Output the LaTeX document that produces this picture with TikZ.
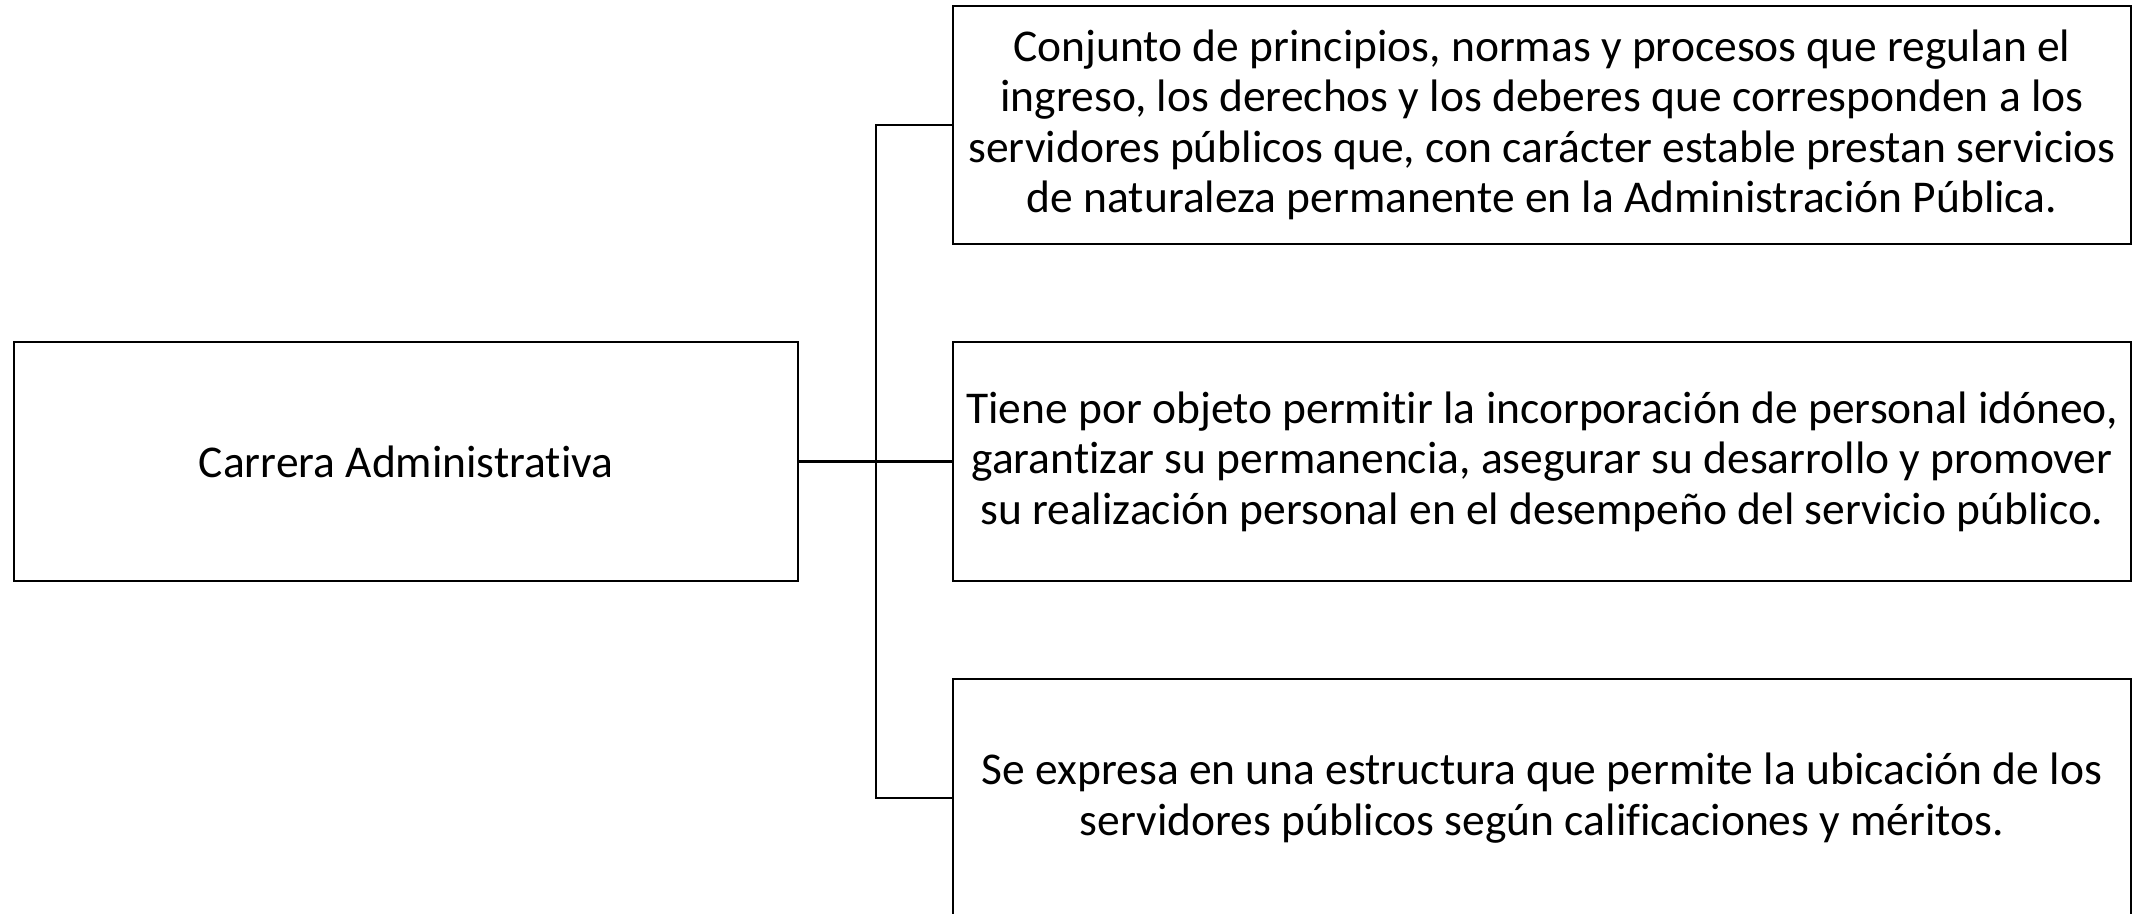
\documentclass[tikz,border=0pt]{standalone}
\usepackage{fontspec}
\setmainfont[Ligatures=NoCommon]{Carlito}
\usepackage{tikz}

\tikzset{
	box/.style={draw, line width=2.4pt, inner sep=0pt, align=center, font=\fontsize{45.5}{50.5}\selectfont},
	wire/.style={line width=2.4pt}
}

\begin{document}
\begin{tikzpicture}[x=1pt, y=-1pt]
		\useasboundingbox (0, 0) rectangle (2133, 913);
		\node[box, minimum width=784pt, minimum height=239pt] (carrera) at (406, 461.5) {Carrera Administrativa};
		\node[box, minimum width=1178pt, minimum height=238pt] (concepto) at (1542, 125)
			{Conjunto de principios, normas y procesos que regulan el\\
			ingreso, los derechos y los deberes que corresponden a los\\
			servidores públicos que, con carácter estable prestan servicios\\
			de naturaleza permanente en la Administración Pública.};
		\node[box, minimum width=1178pt, minimum height=239pt] (objeto) at (1542, 461.5)
			{Tiene por objeto permitir la incorporación de personal idóneo,\\
			garantizar su permanencia, asegurar su desarrollo y promover\\
			su realización personal en el desempeño del servicio público.};
		\node[box, minimum width=1178pt, minimum height=238pt] (estructura) at (1542, 798)
			{Se expresa en una estructura que permite la ubicación de los\\
			servidores públicos según calificaciones y méritos.};
		\coordinate (tronco) at (876, 461.5);
		\draw[wire] (carrera) -- (objeto);
		\foreach \b in {concepto, estructura}
			\draw[wire] (\b.west) -| (tronco);
	\end{tikzpicture}
\end{document}
